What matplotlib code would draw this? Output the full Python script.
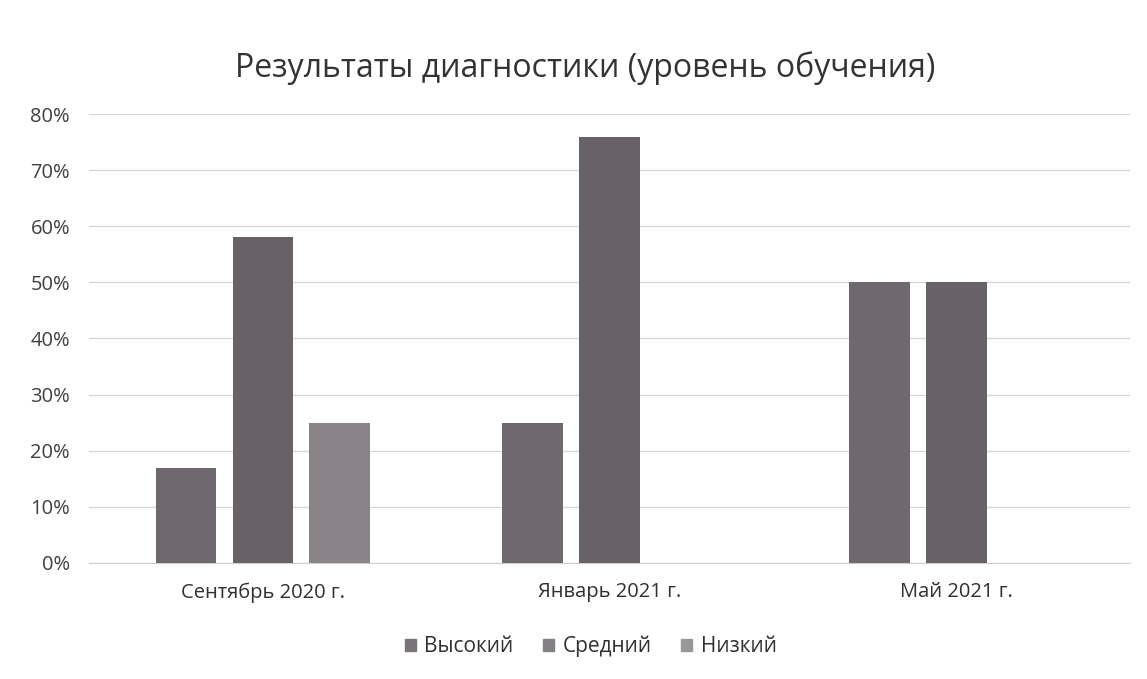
import numpy as np
import matplotlib.pyplot as plt

plt.rcParams['font.family'] = ['Open Sans', 'DejaVu Sans']

# данные
periods = ['Сентябрь 2020 г.', 'Январь 2021 г.', 'Май 2021 г.']
levels = ['Высокий', 'Средний', 'Низкий']
vysokiy = [0.17, 0.25, 0.50]
sredniy = [0.58, 0.76, 0.50]
nizkiy = [0.25, 0.0, 0.0]
y_ticks = [0, 0.1, 0.2, 0.3, 0.4, 0.5, 0.6, 0.7, 0.8]

series = [vysokiy, sredniy, nizkiy]
colors = ['#6f686f', '#686167', '#8a8388']
legend_colors = ['#7a7379', '#858086', '#9b969a']

fig = plt.figure(figsize=(11.47, 6.79), dpi=100)
ax = fig.add_axes([0.078, 0.171, 0.907, 0.661])

x = np.arange(len(periods))
width = 0.175
step = 0.222
for i, (vals, c, lab) in enumerate(zip(series, colors, levels)):
    ax.bar(x + (i - 1) * step, vals, width=width, color=c, label=lab, zorder=3)

ax.set_xlim(-0.5, len(periods) - 0.5)
ax.set_ylim(0, 0.8)
ax.set_yticks(y_ticks)
ax.set_yticklabels([f'{int(round(t * 100))}%' for t in y_ticks], fontsize=14.5, color='#404040')
ax.set_xticks(x)
ax.set_xticklabels(periods, fontsize=14.5, color='#303030')
ax.tick_params(axis='y', length=0, pad=14)
ax.tick_params(axis='x', length=0, pad=14)

ax.grid(axis='y', color='#d6d6d6', linewidth=0.9, zorder=0)
for s in ['top', 'right', 'left']:
    ax.spines[s].set_visible(False)
ax.spines['bottom'].set_color('#cfcfcf')

fig.suptitle('Результаты диагностики (уровень обучения)', fontsize=23,
             color='#333333', x=0.51, y=0.925)

handles = [plt.Rectangle((0, 0), 1, 1, color=c) for c in legend_colors]
fig.legend(handles, levels, loc='center', bbox_to_anchor=(0.515, 0.048), ncol=3,
           frameon=False, fontsize=15, handlelength=0.55, handleheight=0.55,
           columnspacing=1.4, handletextpad=0.4, labelcolor='#303030')

fig.savefig('out.png', dpi=100)
